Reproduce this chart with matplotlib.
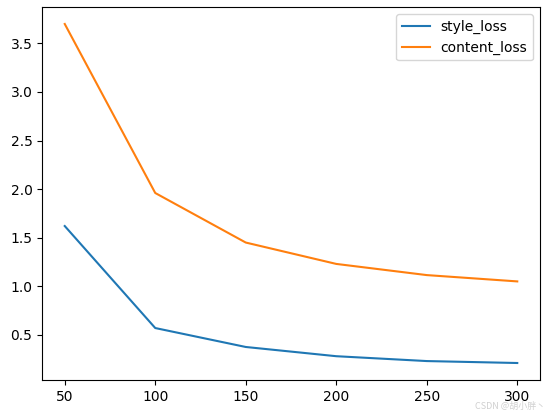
import matplotlib
matplotlib.use('Agg')
import matplotlib.pyplot as plt

epochs = [50, 100, 150, 200, 250, 300]
style_loss = [1.62, 0.57, 0.375, 0.28, 0.23, 0.21]
content_loss = [3.70, 1.96, 1.45, 1.23, 1.115, 1.05]

fig, ax = plt.subplots(figsize=(5.47, 4.13), dpi=100)
fig.subplots_adjust(left=0.077, right=0.987, top=0.983, bottom=0.080)

ax.plot(epochs, style_loss, label='style_loss')
ax.plot(epochs, content_loss, label='content_loss')
ax.legend()

# watermark
fig.text(0.997, 0.004, 'CSDN @胡小胖丶', ha='right', va='bottom', fontsize=6.5,
         color='#d0d0d0', family=['Noto Sans CJK SC', 'DejaVu Sans'])

fig.savefig('out.png')
